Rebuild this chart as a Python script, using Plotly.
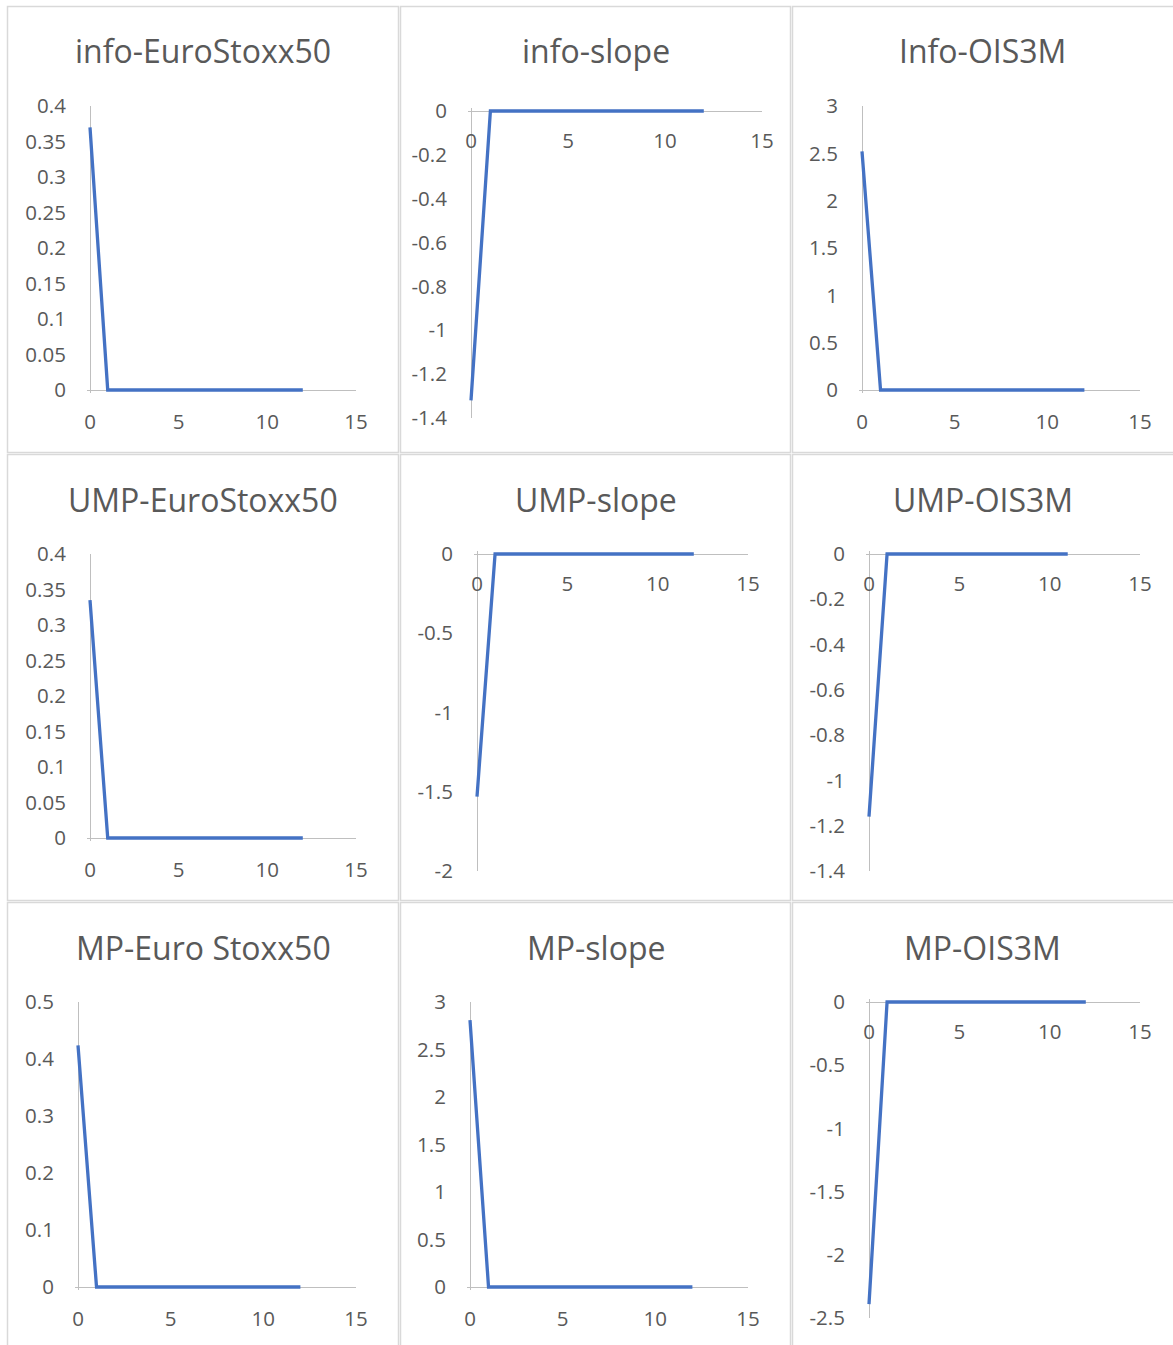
import plotly.graph_objects as go

W, H = 1173, 1345

# ---------------- data ----------------
titles = ["info-EuroStoxx50", "info-slope", "Info-OIS3M",
          "UMP-EuroStoxx50", "UMP-slope", "UMP-OIS3M",
          "MP-Euro Stoxx50", "MP-slope", "MP-OIS3M"]

horizon_12 = [0, 1, 2, 3, 4, 5, 6, 7, 8, 9, 10, 11, 12]
horizon_11 = [0, 1, 2, 3, 4, 5, 6, 7, 8, 9, 10, 11]

info_eurostoxx50 = [0.37, 0, 0, 0, 0, 0, 0, 0, 0, 0, 0, 0, 0]
info_slope = [-1.32, 0, 0, 0, 0, 0, 0, 0, 0, 0, 0, 0, 0]
info_ois3m = [2.52, 0, 0, 0, 0, 0, 0, 0, 0, 0, 0, 0, 0]
ump_eurostoxx50 = [0.335, 0, 0, 0, 0, 0, 0, 0, 0, 0, 0, 0, 0]
ump_slope = [-1.53, 0, 0, 0, 0, 0, 0, 0, 0, 0, 0, 0, 0]
ump_ois3m = [-1.16, 0, 0, 0, 0, 0, 0, 0, 0, 0, 0, 0]
mp_eurostoxx50 = [0.424, 0, 0, 0, 0, 0, 0, 0, 0, 0, 0, 0, 0]
mp_slope = [2.81, 0, 0, 0, 0, 0, 0, 0, 0, 0, 0, 0, 0]
mp_ois3m = [-2.39, 0, 0, 0, 0, 0, 0, 0, 0, 0, 0, 0, 0]

x_ticks = [0, 5, 10, 15]
y_ticks_eurostoxx = [0, 0.05, 0.1, 0.15, 0.2, 0.25, 0.3, 0.35, 0.4]
y_ticks_info_slope = [0, -0.2, -0.4, -0.6, -0.8, -1, -1.2, -1.4]
y_ticks_0_3 = [0, 0.5, 1, 1.5, 2, 2.5, 3]
y_ticks_ump_slope = [0, -0.5, -1, -1.5, -2]
y_ticks_ump_ois = [0, -0.2, -0.4, -0.6, -0.8, -1, -1.2, -1.4]
y_ticks_mp_euro = [0, 0.1, 0.2, 0.3, 0.4, 0.5]
y_ticks_mp_ois = [0, -0.5, -1, -1.5, -2, -2.5]

series = [
    (horizon_12, info_eurostoxx50, y_ticks_eurostoxx),
    (horizon_12, info_slope, y_ticks_info_slope),
    (horizon_12, info_ois3m, y_ticks_0_3),
    (horizon_12, ump_eurostoxx50, y_ticks_eurostoxx),
    (horizon_12, ump_slope, y_ticks_ump_slope),
    (horizon_11, ump_ois3m, y_ticks_ump_ois),
    (horizon_12, mp_eurostoxx50, y_ticks_mp_euro),
    (horizon_12, mp_slope, y_ticks_0_3),
    (horizon_12, mp_ois3m, y_ticks_mp_ois),
]

# ---------------- layout geometry (pixels) ----------------
# (x at 0, x at 15, y pixel of top tick, y pixel of bottom tick)
geom = [
    (90, 356, 106, 390), (471, 762, 111, 418), (862, 1140, 106, 390),
    (90, 356, 554, 838), (477, 748, 554, 871), (869, 1140, 554, 871),
    (78, 356, 1002, 1287), (470, 748, 1002, 1287), (869, 1140, 1002, 1318),
]
col_box = [(7.5, 398.5), (400.5, 790.5), (792.5, 1185)]
row_box = [(6.5, 452.5), (454.5, 900.5), (902.5, 1360)]
title_y = [50, 499, 947]

TXT = "#595959"
AXC = "#BFBFBF"
LINE = "#4472C4"
FONT = "Open Sans"
TICK_SIZE = 20.5
TITLE_SIZE = 32

fig = go.Figure()
layout = dict(width=W, height=H, autosize=False,
              margin=dict(l=0, r=0, t=0, b=0, pad=0, autoexpand=False),
              paper_bgcolor="white", plot_bgcolor="rgba(0,0,0,0)",
              showlegend=False, font=dict(family=FONT, color=TXT))
shapes = []
annotations = []


def fmt(v):
    return "%g" % v


for i, ((xs, ys, yt), (x0p, x15p, ytp, ybp)) in enumerate(zip(series, geom)):
    r, c = divmod(i, 3)
    n = i + 1
    xa = "x" if n == 1 else f"x{n}"
    ya = "y" if n == 1 else f"y{n}"
    fig.add_trace(go.Scatter(x=xs, y=ys, mode="lines", xaxis=xa, yaxis=ya,
                             line=dict(color=LINE, width=3.3), hoverinfo="skip"))
    kx = (x15p - x0p) / 15.0
    xpad = 3.0 / kx
    dom_x = [(x0p - 3.0) / W, x15p / W]
    ymax, ymin = max(yt), min(yt)
    ky = (ybp - ytp) / (ymax - ymin)
    ypad = 3.0 / ky
    negative = ymax == 0
    if negative:
        yr = [ymin, ypad]
        top_px, bot_px = ytp - 3.0, ybp
    else:
        yr = [-ypad, ymax]
        top_px, bot_px = ytp, ybp + 3.0
    dom_y = [1 - bot_px / H, 1 - top_px / H]

    xaxis = dict(domain=dom_x, range=[-xpad, 15], anchor=ya, automargin=False,
                 showgrid=False, showline=False, zeroline=True,
                 zerolinecolor=AXC, zerolinewidth=1.4,
                 tickvals=x_ticks, ticktext=[fmt(v) for v in x_ticks],
                 tickfont=dict(size=TICK_SIZE, color=TXT, family=FONT),
                 ticklabeloverflow="allow", fixedrange=True)
    if negative:
        xaxis.update(side="top", ticks="inside", ticklen=27,
                     tickcolor="rgba(0,0,0,0)", ticklabelposition="inside")
    else:
        xaxis.update(side="bottom", ticks="outside", ticklen=10,
                     tickcolor="rgba(0,0,0,0)")
    yaxis = dict(domain=dom_y, range=yr, anchor=xa, automargin=False,
                 showgrid=False, showline=False, zeroline=True,
                 zerolinecolor=AXC, zerolinewidth=1.4,
                 tickvals=yt, ticktext=[fmt(v) for v in yt],
                 tickfont=dict(size=TICK_SIZE, color=TXT, family=FONT),
                 ticks="outside", ticklen=16, tickcolor="rgba(0,0,0,0)",
                 ticklabeloverflow="allow", fixedrange=True)
    layout["xaxis" if n == 1 else f"xaxis{n}"] = xaxis
    layout["yaxis" if n == 1 else f"yaxis{n}"] = yaxis

    bx0, bx1 = col_box[c]
    by0, by1 = row_box[r]
    shapes.append(dict(type="rect", xref="paper", yref="paper",
                       x0=bx0 / W, x1=bx1 / W, y0=1 - by1 / H, y1=1 - by0 / H,
                       line=dict(color="#D9D9D9", width=1.5),
                       fillcolor="rgba(0,0,0,0)", layer="below"))
    annotations.append(dict(text=titles[i], xref="paper", yref="paper",
                            x=(bx0 + min(bx1, W)) / 2 / W, y=1 - title_y[r] / H,
                            xanchor="center", yanchor="middle", showarrow=False,
                            font=dict(size=TITLE_SIZE, color=TXT, family=FONT)))

layout["shapes"] = shapes
layout["annotations"] = annotations
fig.update_layout(**layout)
fig.write_html("out.html",
               post_script="document.body.style.margin='0';document.body.style.overflow='hidden';")
